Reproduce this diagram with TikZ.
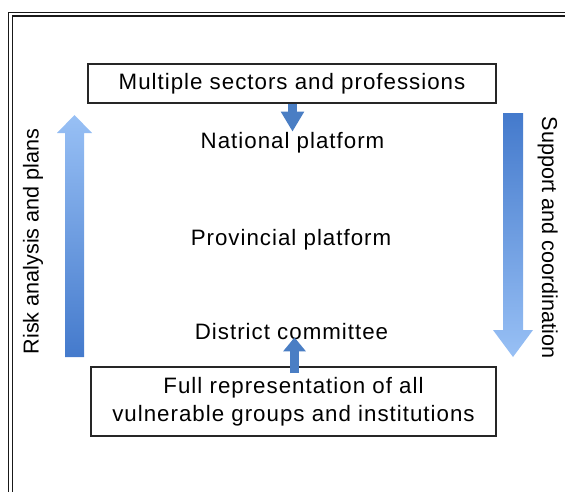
\documentclass[tikz,border=0pt]{standalone}
\usepackage{fontspec}
\setmainfont{Liberation Sans}[LetterSpace=4.5]
\newfontfamily\vertfont{Liberation Sans}
\usetikzlibrary{arrows.meta}
\definecolor{arrowlight}{RGB}{152,192,245}
\definecolor{arrowdark}{RGB}{68,122,204}
\definecolor{smallblue}{RGB}{74,126,196}
\begin{document}
\begin{tikzpicture}[x=1pt,y=-1pt,
  frame/.style={draw=black!90,line width=1.5pt},
  boxnode/.style={draw=black!85,line width=1.2pt,fill=white,align=center,inner sep=0pt,
     font=\fontsize{22.3}{28}\selectfont},
  lbl/.style={inner sep=0pt,anchor=base,font=\fontsize{22.3}{28}\selectfont},
  vlbl/.style={inner sep=0pt,anchor=base,font=\vertfont\fontsize{21.6}{28}\selectfont},
  smallarrow/.style={draw=smallblue,line width=9pt}
]
\useasboundingbox (0,0) rectangle (565,491);
\clip (0,0) rectangle (565,491);
% double frame
\draw[frame] (8.5,500) -- (8.5,12.5) -- (580,12.5);
\draw[frame] (12.5,500) -- (12.5,16) -- (580,16);
% big block arrows
\shade[top color=arrowlight,bottom color=arrowdark]
  (65,357) -- (65,133) -- (57,133) -- (74.5,115) -- (92,133) -- (84,133) -- (84,357) -- cycle;
\shade[top color=arrowdark,bottom color=arrowlight]
  (503,113) -- (523,113) -- (523,330) -- (533,330) -- (513,357) -- (493,330) -- (503,330) -- cycle;
% rotated labels
\node[vlbl,rotate=90] (risk) at (38.5,241.5) {Risk analysis and plans};
\node[vlbl,rotate=-90] (support) at (542,237.5) {Support and coordination};
% boxes
\node[boxnode,minimum width=408,minimum height=39] (topbox) at (292,83.5)
  {\raisebox{-1.5pt}{Multiple sectors and professions}};
\node[boxnode,minimum width=405,minimum height=69] (botbox) at (293.5,401.5)
  {Full representation of all\\vulnerable groups and institutions};
% level labels
\node[lbl] (national) at (292.5,148) {National platform};
\node[lbl] (provincial) at (291,245) {Provincial platform};
\node[lbl] (district) at (291.5,339) {District committee};
% small connectors
\draw[smallarrow,-{Triangle[width=22pt,length=20pt]}]
  (topbox.south -| national.south) -- (national.north);
\coordinate (b0) at (294.5,373);
\draw[smallarrow,-{Triangle[width=22pt,length=14pt]},shorten >=-2pt]
  (b0) -- (b0 |- district.south);
\end{tikzpicture}
\end{document}
